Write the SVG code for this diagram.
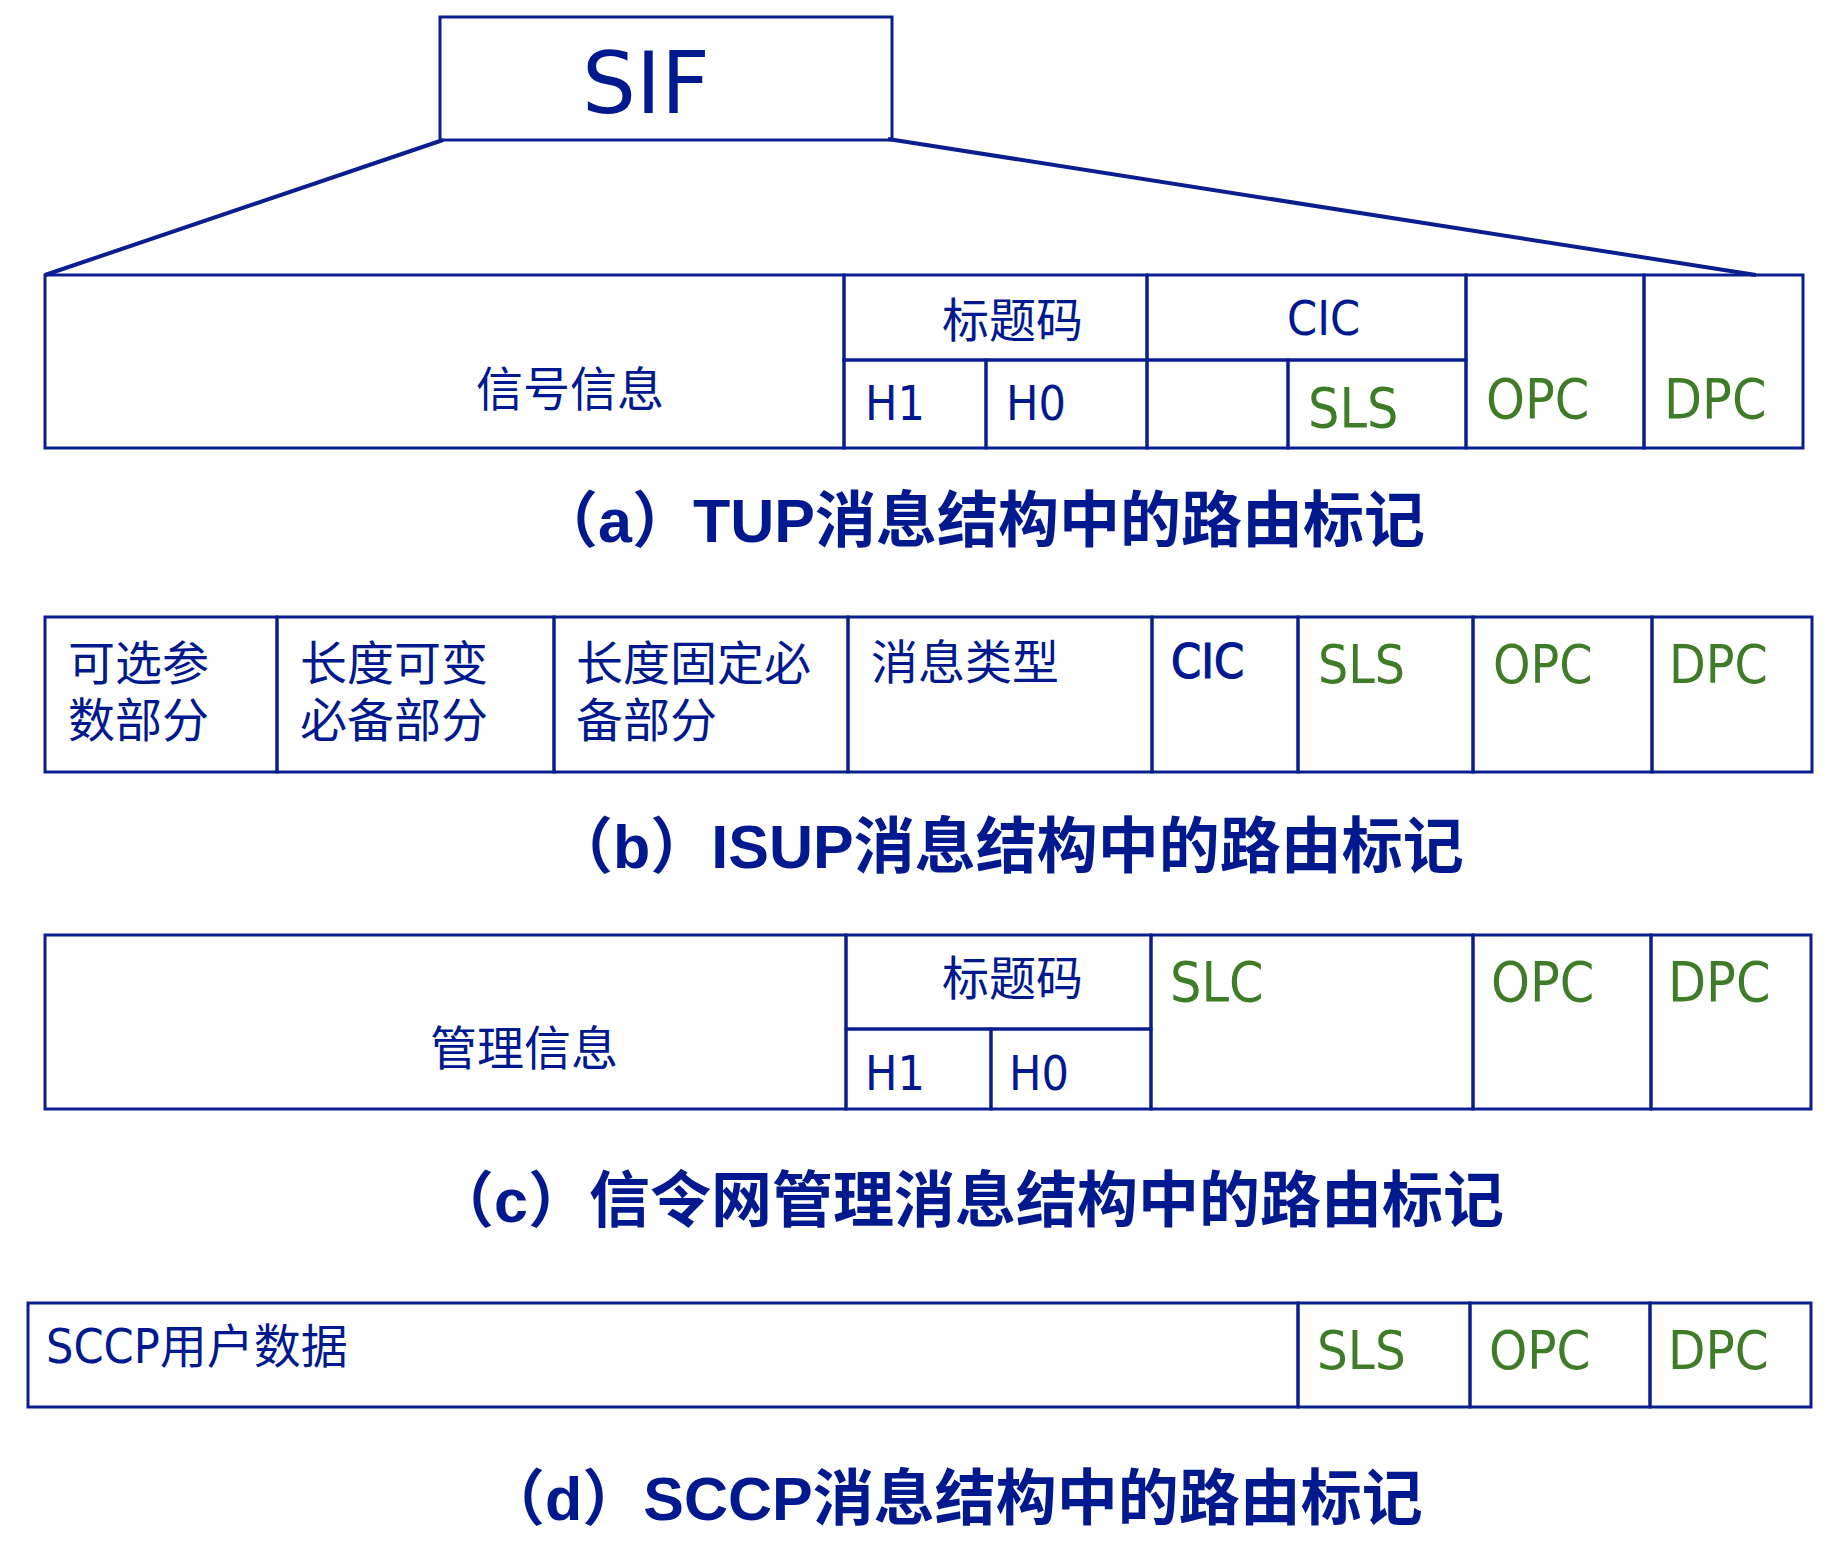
<svg xmlns="http://www.w3.org/2000/svg" width="1848" height="1554" viewBox="0 0 1848 1554">
<style>
.bx{fill:none;stroke:#0A1E8F;stroke-width:3}
.cn{fill:none;stroke:#0A1E8F;stroke-width:4}
.cj{font-family:"Noto Sans CJK SC","Noto Sans CJK TC",sans-serif;font-size:47px;fill:#00198F}
.la{font-family:"DejaVu Sans Condensed","DejaVu Sans",sans-serif;font-stretch:condensed;fill:#00198F}
.gr{fill:#3E7C27}
.cap{font-family:"Liberation Sans","Noto Sans CJK SC",sans-serif;font-weight:bold;font-size:61px;fill:#00198F}
</style>
<rect width="1848" height="1554" fill="#ffffff"/>

<g id="sif">
<rect class="bx" x="440" y="17" width="452" height="123"/>
<text x="582" y="113" style="font-family:'DejaVu Sans',sans-serif;font-size:85px;fill:#00198F">SIF</text>
</g>

<g id="connectors">
<line class="cn" x1="443" y1="140" x2="45" y2="275"/>
<line class="cn" x1="888" y1="139" x2="1756" y2="275"/>
</g>

<g id="table-a">
<g id="a-info"><rect class="bx" x="45" y="275" width="799" height="173"/><text class="cj" x="476" y="406">信号信息</text></g>
<g id="a-title"><rect class="bx" x="844" y="275" width="303" height="85"/><text class="cj" x="942" y="337">标题码</text></g>
<g id="a-h1"><rect class="bx" x="844" y="360" width="142" height="88"/><text class="la" x="865" y="420" font-size="48">H1</text></g>
<g id="a-h0"><rect class="bx" x="986" y="360" width="161" height="88"/><text class="la" x="1006" y="420" font-size="48">H0</text></g>
<g id="a-cic"><rect class="bx" x="1147" y="275" width="319" height="85"/><text class="la" x="1287" y="335" font-size="48">CIC</text></g>
<g id="a-blank"><rect class="bx" x="1147" y="360" width="141" height="88"/></g>
<g id="a-sls"><rect class="bx" x="1288" y="360" width="178" height="88"/><text class="la gr" x="1308" y="427" font-size="55">SLS</text></g>
<g id="a-opc"><rect class="bx" x="1466" y="275" width="178" height="173"/><text class="la gr" x="1486" y="418" font-size="55">OPC</text></g>
<g id="a-dpc"><rect class="bx" x="1644" y="275" width="159" height="173"/><text class="la gr" x="1664" y="418" font-size="55">DPC</text></g>
</g>
<g id="caption-a"><text class="cap" x="537" y="542">（a）TUP消息结构中的路由标记</text></g>

<g id="table-b">
<g id="b-opt"><rect class="bx" x="45" y="617" width="232" height="155"/><text class="cj" x="68" y="680">可选参<tspan x="68" dy="57">数部分</tspan></text></g>
<g id="b-var"><rect class="bx" x="277" y="617" width="277" height="155"/><text class="cj" x="300" y="680">长度可变<tspan x="300" dy="57">必备部分</tspan></text></g>
<g id="b-fix"><rect class="bx" x="554" y="617" width="294" height="155"/><text class="cj" x="576" y="680">长度固定必<tspan x="576" dy="57">备部分</tspan></text></g>
<g id="b-type"><rect class="bx" x="848" y="617" width="304" height="155"/><text class="cj" x="871" y="679">消息类型</text></g>
<g id="b-cic"><rect class="bx" x="1152" y="617" width="146" height="155"/><text class="la" x="1171" y="678" font-size="48" stroke="#00198F" stroke-width="1.2">CIC</text></g>
<g id="b-sls"><rect class="bx" x="1298" y="617" width="175" height="155"/><text class="la gr" x="1318" y="683" font-size="53">SLS</text></g>
<g id="b-opc"><rect class="bx" x="1473" y="617" width="179" height="155"/><text class="la gr" x="1493" y="683" font-size="53">OPC</text></g>
<g id="b-dpc"><rect class="bx" x="1652" y="617" width="160" height="155"/><text class="la gr" x="1669" y="683" font-size="53">DPC</text></g>
</g>
<g id="caption-b"><text class="cap" x="552" y="868">（b）ISUP消息结构中的路由标记</text></g>

<g id="table-c">
<g id="c-info"><rect class="bx" x="45" y="935" width="801" height="174"/><text class="cj" x="430" y="1065">管理信息</text></g>
<g id="c-title"><rect class="bx" x="846" y="935" width="305" height="94"/><text class="cj" x="942" y="995">标题码</text></g>
<g id="c-h1"><rect class="bx" x="846" y="1029" width="145" height="80"/><text class="la" x="865" y="1090" font-size="48">H1</text></g>
<g id="c-h0"><rect class="bx" x="991" y="1029" width="160" height="80"/><text class="la" x="1009" y="1090" font-size="48">H0</text></g>
<g id="c-slc"><rect class="bx" x="1151" y="935" width="322" height="174"/><text class="la gr" x="1170" y="1001" font-size="55">SLC</text></g>
<g id="c-opc"><rect class="bx" x="1473" y="935" width="178" height="174"/><text class="la gr" x="1491" y="1001" font-size="55">OPC</text></g>
<g id="c-dpc"><rect class="bx" x="1651" y="935" width="160" height="174"/><text class="la gr" x="1668" y="1001" font-size="55">DPC</text></g>
</g>
<g id="caption-c"><text class="cap" x="433" y="1222">（c）信令网管理消息结构中的路由标记</text></g>

<g id="table-d">
<g id="d-data"><rect class="bx" x="28" y="1303" width="1270" height="104"/><text class="la" x="46" y="1363" style="font-family:'DejaVu Sans Condensed','DejaVu Sans','Noto Sans CJK SC',sans-serif" font-size="48">SCCP<tspan style="font-family:'Noto Sans CJK SC',sans-serif" font-size="47">用户数据</tspan></text></g>
<g id="d-sls"><rect class="bx" x="1298" y="1303" width="172" height="104"/><text class="la gr" x="1317" y="1369" font-size="54">SLS</text></g>
<g id="d-opc"><rect class="bx" x="1470" y="1303" width="180" height="104"/><text class="la gr" x="1489" y="1369" font-size="54">OPC</text></g>
<g id="d-dpc"><rect class="bx" x="1650" y="1303" width="161" height="104"/><text class="la gr" x="1668" y="1369" font-size="54">DPC</text></g>
</g>
<g id="caption-d"><text class="cap" x="484" y="1520">（d）SCCP消息结构中的路由标记</text></g>
</svg>
